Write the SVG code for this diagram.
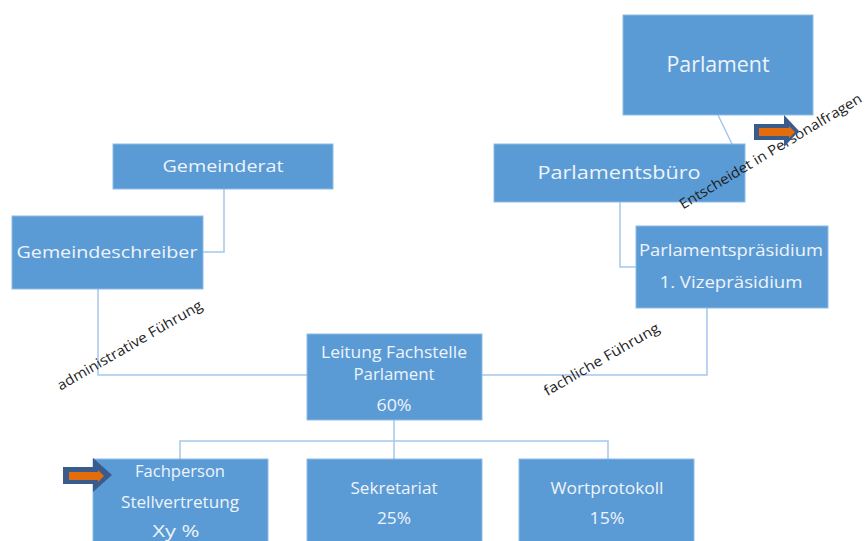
<svg xmlns="http://www.w3.org/2000/svg" width="865" height="541" viewBox="0 0 865 541">
<style>
.box{fill:#5B9BD5;stroke:#8DBBE6;stroke-width:1}
.t{font-family:"Open Sans","Noto Sans",sans-serif;fill:#EEF4FB;text-anchor:middle;font-weight:500}
.lbl{font-family:"Open Sans","Noto Sans",sans-serif;fill:#1E1E1E;font-size:14px;text-anchor:middle}
.con{fill:none;stroke:#A6C7EA;stroke-width:1.5}
.ao{fill:#3A5C8C}
.ai{fill:#E46C0A}
</style>
<rect width="865" height="541" fill="#FFFFFF"/>
<g id="connectors">
<path class="con" d="M718,115 L732,144"/>
<path class="con" d="M224,189 V252 H203"/>
<path class="con" d="M98,289 V375 H307"/>
<path class="con" d="M620,202 V267 H636"/>
<path class="con" d="M707,308 V375 H482"/>
<path class="con" d="M394,420 V459"/>
<path class="con" d="M180,459 V441 H608 V459"/>
</g>
<g id="parlament">
<rect class="box" x="623" y="15" width="190" height="100"/>
<text class="t" x="718" y="72" font-size="21" textLength="103" lengthAdjust="spacingAndGlyphs">Parlament</text>
</g>
<g id="parlamentsbuero">
<rect class="box" x="494" y="144" width="251" height="58"/>
<text class="t" x="619" y="179" font-size="19" textLength="163" lengthAdjust="spacingAndGlyphs">Parlamentsbüro</text>
</g>
<g id="gemeinderat">
<rect class="box" x="113" y="144" width="220" height="45"/>
<text class="t" x="223" y="172" font-size="17" textLength="121" lengthAdjust="spacingAndGlyphs">Gemeinderat</text>
</g>
<g id="gemeindeschreiber">
<rect class="box" x="12" y="216" width="191" height="73"/>
<text class="t" x="107" y="258" font-size="17" textLength="181" lengthAdjust="spacingAndGlyphs">Gemeindeschreiber</text>
</g>
<g id="parlamentspraesidium">
<rect class="box" x="636" y="226" width="192" height="82"/>
<text class="t" x="731" y="256" font-size="17" textLength="184" lengthAdjust="spacingAndGlyphs">Parlamentspräsidium</text>
<text class="t" x="731" y="288" font-size="17" textLength="143" lengthAdjust="spacingAndGlyphs">1. Vizepräsidium</text>
</g>
<g id="leitung">
<rect class="box" x="307" y="334" width="175" height="86"/>
<text class="t" x="394" y="358" font-size="16" textLength="146" lengthAdjust="spacingAndGlyphs">Leitung Fachstelle</text>
<text class="t" x="394" y="380" font-size="16" textLength="81" lengthAdjust="spacingAndGlyphs">Parlament</text>
<text class="t" x="394" y="411" font-size="16" textLength="35" lengthAdjust="spacingAndGlyphs">60%</text>
</g>
<g id="fachperson">
<rect class="box" x="93" y="459" width="175" height="90"/>
<text class="t" x="180" y="477" font-size="16" textLength="90" lengthAdjust="spacingAndGlyphs">Fachperson</text>
<text class="t" x="180" y="508" font-size="16" textLength="118" lengthAdjust="spacingAndGlyphs">Stellvertretung</text>
<text class="t" x="176" y="537" font-size="16" textLength="47" lengthAdjust="spacingAndGlyphs">Xy %</text>
</g>
<g id="sekretariat">
<rect class="box" x="307" y="459" width="175" height="90"/>
<text class="t" x="394" y="494" font-size="16" textLength="87" lengthAdjust="spacingAndGlyphs">Sekretariat</text>
<text class="t" x="394" y="524" font-size="16" textLength="34" lengthAdjust="spacingAndGlyphs">25%</text>
</g>
<g id="wortprotokoll">
<rect class="box" x="519" y="459" width="175" height="90"/>
<text class="t" x="607" y="494" font-size="16" textLength="113" lengthAdjust="spacingAndGlyphs">Wortprotokoll</text>
<text class="t" x="607" y="524" font-size="16" textLength="35" lengthAdjust="spacingAndGlyphs">15%</text>
</g>
<g id="labels">
<text class="lbl" transform="translate(771,152) rotate(-31)" y="4" textLength="210" lengthAdjust="spacingAndGlyphs">Entscheidet in Personalfragen</text>
<text class="lbl" transform="translate(130,346) rotate(-30)" y="4" textLength="165" lengthAdjust="spacingAndGlyphs">administrative Führung</text>
<text class="lbl" transform="translate(602,360) rotate(-30)" y="4" textLength="131" lengthAdjust="spacingAndGlyphs">fachliche Führung</text>
</g>
<g id="arrow-right">
<polygon class="ao" points="754,124 784,124 784,115 799,131 784,147 784,140 754,140"/>
<polygon class="ai" points="759,128 789,128 789,126 795,132 789,138 789,136 759,136"/>
</g>
<g id="arrow-left">
<polygon class="ao" points="63,467 93,467 93,458 112,475 93,492 93,484 63,484"/>
<polygon class="ai" points="69,472 98,472 98,470 104,476 98,482 98,480 69,480"/>
</g>
</svg>
